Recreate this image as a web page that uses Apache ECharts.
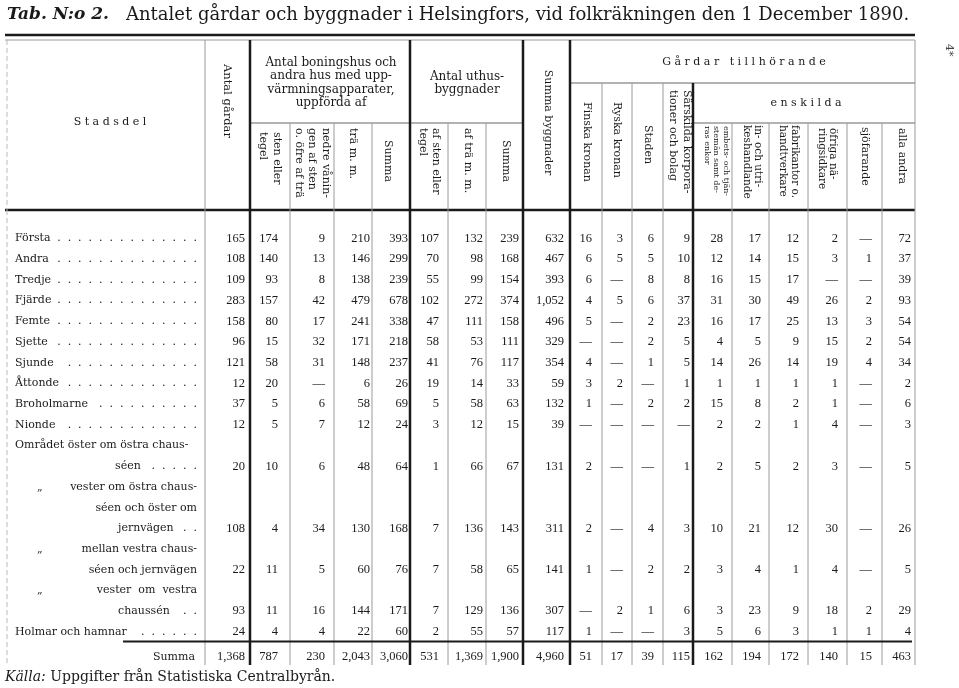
<!DOCTYPE html>
<html><head><meta charset="utf-8">
<script src="https://cdn.jsdelivr.net/npm/echarts@6/dist/echarts.min.js"></script>
<style>html,body{margin:0;padding:0;background:#fff}#c{width:959px;height:688px}</style>
</head><body><div id="c"></div>
<script>
// ---------------- DATA ----------------
const stadsdelar = [
  ['Första'], ['Andra'], ['Tredje'], ['Fjärde'], ['Femte'], ['Sjette'], ['Sjunde'], ['Åttonde'], ['Broholmarne'], ['Nionde'],
  ['Området öster om östra chaus-', 'séen'],
  ['„', 'vester om östra chaus-', 'séen och öster om', 'jernvägen'],
  ['„', 'mellan vestra chaus-', 'séen och jernvägen'],
  ['„', 'vester  om  vestra', 'chaussén'],
  ['Holmar och hamnar'],
  ['Summa']
];
// null = "—"
const antalGardar   = [165,108,109,283,158,96,121,12,37,12,20,108,22,93,24,1368];
const bonStenTegel  = [174,140,93,157,80,15,58,20,5,5,10,4,11,11,4,787];
const bonNedreSten  = [9,13,8,42,17,32,31,null,6,7,6,34,5,16,4,230];
const bonTra        = [210,146,138,479,241,171,148,6,58,12,48,130,60,144,22,2043];
const bonSumma      = [393,299,239,678,338,218,237,26,69,24,64,168,76,171,60,3060];
const uthStenTegel  = [107,70,55,102,47,58,41,19,5,3,1,7,7,7,2,531];
const uthTra        = [132,98,99,272,111,53,76,14,58,12,66,136,58,129,55,1369];
const uthSumma      = [239,168,154,374,158,111,117,33,63,15,67,143,65,136,57,1900];
const summaByggn    = [632,467,393,1052,496,329,354,59,132,39,131,311,141,307,117,4960];
const finskaKronan  = [16,6,6,4,5,null,4,3,1,null,2,2,1,null,1,51];
const ryskaKronan   = [3,5,null,5,null,null,null,2,null,null,null,null,null,2,null,17];
const staden        = [6,5,8,6,2,2,1,null,2,null,null,4,2,1,null,39];
const sarskildaKorp = [9,10,8,37,23,5,5,1,2,null,1,3,2,6,3,115];
const embetsman     = [28,12,16,31,16,4,14,1,15,2,2,10,3,3,5,162];
const handlande     = [17,14,15,30,17,5,26,1,8,2,5,21,4,23,6,194];
const fabrikanter   = [12,15,17,49,25,9,14,1,2,1,2,12,1,9,3,172];
const ovrigaNaring  = [2,3,null,26,13,15,19,1,1,4,3,30,4,18,1,140];
const sjofarande    = [null,1,null,2,3,2,4,null,null,null,null,null,null,2,1,15];
const allaAndra     = [72,37,39,93,54,54,34,2,6,3,5,26,5,29,4,463];

const headerTexts = [
  'S t a d s d e l', 'Antal gårdar',
  'Antal boningshus och\nandra hus med upp-\nvärmningsapparater,\nuppförda af',
  'sten eller\ntegel', 'nedre vånin-\ngen af sten\no. öfre af trä', 'trä m. m.', 'Summa',
  'Antal uthus-\nbyggnader', 'af sten eller\ntegel', 'af trä m. m.', 'Summa',
  'Summa byggnader', 'G å r d a r   t i l l h ö r a n d e',
  'Finska kronan', 'Ryska kronan', 'Staden', 'Särskilda korpora-\ntioner och bolag',
  'e n s k i l d a', 'embets- och tjän-\nstemän samt de-\nras enkor', 'in- och utri-\nkeshandlande',
  'fabrikantor o.\nhandtverkare', 'öfriga nä-\nringsidkare', 'sjöfarande', 'alla andra'
];
const titleTab = 'Tab. N:o 2.';
const titleMain = 'Antalet gårdar och byggnader i Helsingfors, vid folkräkningen den 1 December 1890.';
const sourceText = '{i|Källa:} Uppgifter från Statistiska Centralbyrån.';

// ---------------- LAYOUT ----------------
const columns = [antalGardar,bonStenTegel,bonNedreSten,bonTra,bonSumma,uthStenTegel,uthTra,uthSumma,summaByggn,
  finskaKronan,ryskaKronan,staden,sarskildaKorp,embetsman,handlande,fabrikanter,ovrigaNaring,sjofarande,allaAndra];
const colWidths = [200,45,40,44,38,38,38,38,37,47,32,30,31,30,39,37,39,39,35,33];
const colEdges = [0]; colWidths.forEach(w => colEdges.push(colEdges[colEdges.length-1] + w));
const colPad = [5,12,9,2,2,9,3,4,6,10,9,9,3,9,8,9,9,10,4];
const thickEdges = [2,6,9,10,14];
const headerEdgeStart = [null,0,0,83,83,83,0,83,83,0,0,43,43,43,43,83,83,83,83,83,0];
const valueLine = [0,1,2,3,4,5,6,7,8,9,11,14,16,18,19,20.22];
const labelLayout = [
  [[0,10,'left',1]],[[1,10,'left',1]],[[2,10,'left',1]],[[3,10,'left',1]],[[4,10,'left',1]],
  [[5,10,'left',1]],[[6,10,'left',1]],[[7,10,'left',1]],[[8,10,'left',1]],[[9,10,'left',1]],
  [[10,10,'left',0],[11,110,'left',1]],
  [[12,32,'left',0],[12,192,'right',0],[13,192,'right',0],[14,113,'left',1]],
  [[15,32,'left',0],[15,192,'right',0],[16,192,'right',0]],
  [[17,32,'left',0],[17,192,'right',0],[18,113,'left',1]],
  [[19,10,'left',1]],
  [[20.22,190,'right',0]]
];
// [x, y, fontSize, lineHeight, rotated, align]
const headerLayout = [
  [105,82,11,0,0,'center'], [222,61,11.5,0,1,'center'],
  [326,43,12,13.3,0,'center'],
  [265,92,11,14,1,'left'], [307,88,11,13.5,1,'left'], [348,88,11,0,1,'left'], [383,121,11,0,1,'center'],
  [462,43.5,12,13,0,'center'], [424.5,88,11,13,1,'left'], [463,88,11,0,1,'left'], [501,121,11,0,1,'center'],
  [543,82.5,11,0,1,'center'], [739,22,11,0,0,'center'],
  [582,62,11,0,1,'left'], [612,62,11,0,1,'left'], [643,85,11,0,1,'left'], [675,50,11,14,1,'left'],
  [801,63,11,0,0,'center'], [711.5,86,8,9.5,1,'left'], [747,85,10.5,10.5,1,'left'],
  [784,85,10.5,12,1,'left'], [822,88,10.5,11,1,'left'], [860,87,11,0,1,'left'], [897,88,11,0,1,'left']
];
const SERIF = '"DejaVu Serif"';
const NUMFONT = '12.5px "Liberation Serif"';
const LABFONT = '11px ' + SERIF;
const INK = '#1a1a1a', GRAY = '#9a9a9a';
const BODY_MIN = -1.377, BODY_MAX = 20.6;

const mctx = document.createElement('canvas').getContext('2d');
function textW(t, font){ mctx.font = font; return mctx.measureText(t).width; }
function fmt(v){ return v == null ? '—' : v.toLocaleString('en-US'); }

// ---------------- HEADER ITEMS ----------------
const headerItems = [];
headerTexts.forEach((t,i) => {
  const L = headerLayout[i];
  headerItems.push({v:[L[0],L[1],L[0],L[1]], kind:'text', text:t, font:L[2]+'px '+SERIF, lh:L[3]||undefined, rot:L[4], align:L[5]});
});
function hLine(arr, x1,y1,x2,y2,color,w,dash){ arr.push({v:[x1,y1,x2,y2], kind:'line', color, w, dash}); }
hLine(headerItems, 0,-5,910,-5, INK, 2.5);
hLine(headerItems, 0,0,910,0, GRAY, 1);
hLine(headerItems, colEdges[2],83,colEdges[9],83, '#666', 1);
hLine(headerItems, colEdges[10],43,colEdges[20],43, '#666', 1);
hLine(headerItems, colEdges[14],83,colEdges[20],83, '#666', 1);
hLine(headerItems, 0,170,910,170, INK, 2.5);
hLine(headerItems, 2,0,2,170, '#bbb', 1, [5,3]);
for (let e = 1; e <= 20; e++) {
  const thick = thickEdges.includes(e);
  hLine(headerItems, colEdges[e], headerEdgeStart[e], colEdges[e], 170, thick ? INK : GRAY, thick ? 2.5 : 1);
}

// ---------------- BODY ITEMS ----------------
const bodyItems = [];
hLine(bodyItems, 2,BODY_MIN,2,BODY_MAX, '#bbb', 1, [5,3]);
for (let e = 1; e <= 20; e++) {
  const thick = thickEdges.includes(e);
  hLine(bodyItems, colEdges[e], BODY_MIN, colEdges[e], BODY_MAX, thick ? INK : GRAY, thick ? 2.5 : 1);
}
hLine(bodyItems, 118,19.47,907,19.47, INK, 2);
const dotPitch = textW('.  ', LABFONT);
stadsdelar.forEach((lines, r) => {
  lines.forEach((t, k) => {
    const L = labelLayout[r][k];
    bodyItems.push({v:[L[1],L[0],L[1],L[0]], kind:'text', text:t, font:LABFONT, align:L[2]});
    if (L[3]) {
      const start = L[1] + textW(t, LABFONT) + 8;
      const n = Math.max(1, Math.floor((192 - start) / dotPitch) + 1);
      const s = Array(n).fill('.').join('  ');
      bodyItems.push({v:[192,L[0],192,L[0]], kind:'text', text:s, font:LABFONT, align:'right'});
    }
  });
  columns.forEach((col, c) => {
    const ax = colEdges[c+2] - colPad[c];
    bodyItems.push({v:[ax,valueLine[r],ax,valueLine[r]], kind:'text', text:fmt(col[r]), font:NUMFONT, align:'right'});
  });
});

function render(items){
  return function(params, api){
    const it = items[params.dataIndex];
    const p1 = api.coord([api.value(0), api.value(1)]);
    if (it.kind === 'line') {
      const p2 = api.coord([api.value(2), api.value(3)]);
      return {type:'line', shape:{x1:p1[0],y1:p1[1],x2:p2[0],y2:p2[1]},
        style:{stroke:it.color, lineWidth:it.w, lineDash:it.dash || null}, z2:0};
    }
    return {type:'text', x:p1[0], y:p1[1], rotation: it.rot ? -Math.PI/2 : 0, z2:1,
      style:{text:it.text, font:it.font, fill:INK, align:it.align, verticalAlign:'middle', lineHeight:it.lh}};
  };
}

const chart = echarts.init(document.getElementById('c'), null, {renderer:'canvas'});
chart.setOption({
  animation:false,
  backgroundColor:'#fff',
  title:[
    {text:titleTab, left:7, top:6, padding:0, textStyle:{fontFamily:'DejaVu Serif', fontStyle:'italic', fontWeight:'bold', fontSize:17, color:INK}},
    {text:titleMain, left:126, top:6, padding:0, textStyle:{fontFamily:'DejaVu Serif', fontWeight:'normal', fontSize:18, color:INK}},
    {text:sourceText, left:5, top:670, padding:0, textStyle:{fontFamily:'DejaVu Serif', fontWeight:'normal', fontSize:14, color:INK,
      rich:{i:{fontFamily:'DejaVu Serif', fontStyle:'italic', fontWeight:'normal', fontSize:14, color:INK}}}}
  ],
  graphic:[{type:'text', x:949, y:44, rotation:-Math.PI/2, style:{text:'4*', font:'11px "DejaVu Serif"', fill:'#444', align:'left', verticalAlign:'middle'}}],
  grid:[
    {left:5, top:40, width:910, height:170},
    {left:5, top:210, width:910, height:455}
  ],
  xAxis:[
    {type:'value', gridIndex:0, min:0, max:910, show:false},
    {type:'value', gridIndex:1, min:0, max:910, show:false}
  ],
  yAxis:[
    {type:'value', gridIndex:0, min:0, max:170, inverse:true, show:false},
    {type:'value', gridIndex:1, min:BODY_MIN, max:BODY_MAX, inverse:true, show:false}
  ],
  series:[
    {type:'custom', xAxisIndex:0, yAxisIndex:0, clip:false, silent:true, renderItem:render(headerItems),
      encode:{x:[0,2], y:[1,3]}, data:headerItems.map(d => d.v)},
    {type:'custom', xAxisIndex:1, yAxisIndex:1, clip:false, silent:true, renderItem:render(bodyItems),
      encode:{x:[0,2], y:[1,3]}, data:bodyItems.map(d => d.v)}
  ]
});
</script>
</body></html>
